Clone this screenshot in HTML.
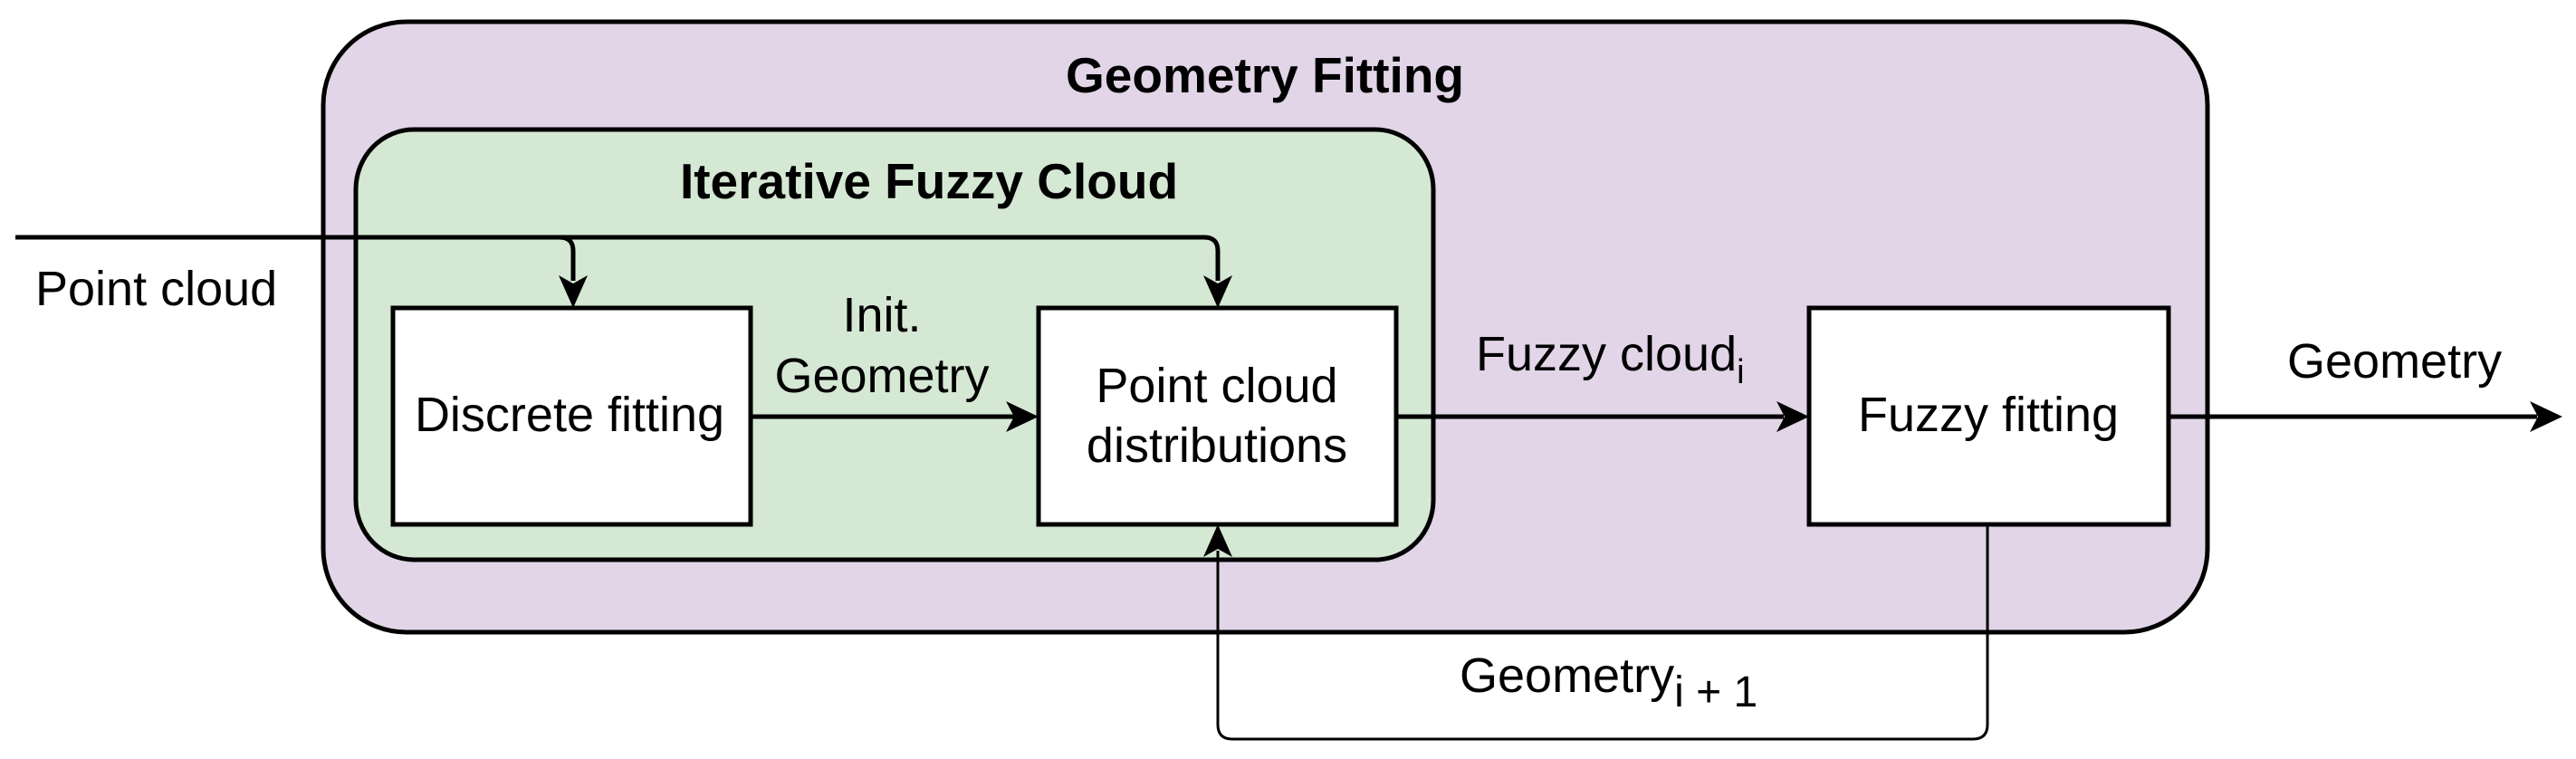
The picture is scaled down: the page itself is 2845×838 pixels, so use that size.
<!DOCTYPE html>
<html><head><meta charset="utf-8"><style>html,body{margin:0;padding:0;background:#fff}svg{display:block}</style></head>
<body>
<svg width="2845" height="838" viewBox="0 0 2845 838" xmlns="http://www.w3.org/2000/svg" font-family="Liberation Sans, Arial, sans-serif">
<rect x="357" y="24" width="2081" height="674" rx="92" ry="92" fill="#e1d5e7" stroke="#000" stroke-width="5"/>
<rect x="393" y="143" width="1190" height="475" rx="64" ry="66" fill="#d5e8d4" stroke="#000" stroke-width="5"/>
<rect x="434" y="340" width="395" height="239" fill="#fff" stroke="#000" stroke-width="5"/>
<rect x="1147" y="340" width="395" height="239" fill="#fff" stroke="#000" stroke-width="5"/>
<rect x="1998" y="340" width="397" height="239" fill="#fff" stroke="#000" stroke-width="5"/>
<g fill="none" stroke="#000">
<path d="M17 262 H1330 Q1345 262 1345 277 V310" stroke-width="5"/>
<path d="M17 262 H618 Q633 262 633 277 V310" stroke-width="5"/>
<path d="M829 460 H1120" stroke-width="5"/>
<path d="M1542 460 H1970" stroke-width="5"/>
<path d="M2395 460 H2802" stroke-width="5"/>
<path d="M2195 579 V800 Q2195 816 2179 816 H1361 Q1345 816 1345 800 V608" stroke-width="3"/>
</g>
<g fill="#000">
<polygon points="633,340 617,304 633,313 649,304"/>
<polygon points="1345,340 1329,304 1345,313 1361,304"/>
<polygon points="1147,460 1111,443 1120,460 1111,477"/>
<polygon points="1998,460 1962,443 1971,460 1962,477"/>
<polygon points="2830,460 2794,443 2803,460 2794,477"/>
<polygon points="1345,579 1329,615 1345,606 1361,615"/>
</g>
<g fill="#000" font-size="54">
<text x="1397" y="102" text-anchor="middle" font-weight="bold" font-size="55">Geometry Fitting</text>
<text x="1026" y="219" text-anchor="middle" font-weight="bold" font-size="55">Iterative Fuzzy Cloud</text>
<text x="39" y="337">Point cloud</text>
<text x="629" y="476" text-anchor="middle">Discrete fitting</text>
<text x="974" y="366" text-anchor="middle">Init.</text>
<text x="974" y="433" text-anchor="middle">Geometry</text>
<text x="1344" y="444" text-anchor="middle">Point cloud</text>
<text x="1344" y="510" text-anchor="middle">distributions</text>
<text x="1630" y="409">Fuzzy cloud<tspan font-size="38" dy="14">i</tspan></text>
<text x="2196" y="476" text-anchor="middle">Fuzzy fitting</text>
<text x="2526" y="417">Geometry</text>
<text x="1612" y="764">Geometry<tspan font-size="48" dy="16">i + 1</tspan></text>
</g>
</svg>
</body></html>
